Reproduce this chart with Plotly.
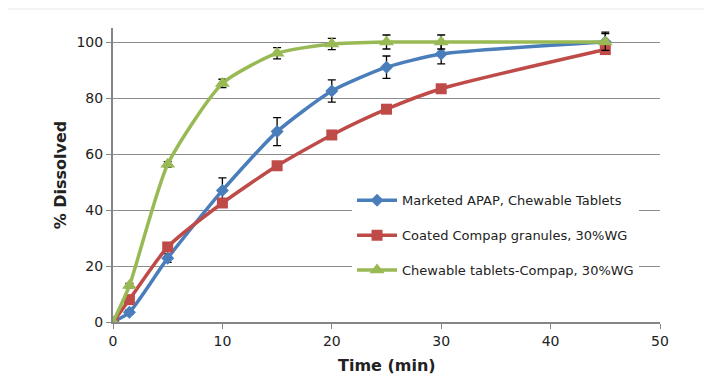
import plotly.graph_objects as go

time_min = [0, 1.5, 5, 10, 15, 20, 25, 30, 45]
marketed = [0, 3.5, 22.8, 47, 68, 82.5, 91, 95.7, 100]
marketed_err = [0, 0.8, 1.5, 4.5, 5, 4, 4, 3.5, 3.5]
coated = [0, 8, 26.8, 42.5, 55.8, 66.8, 76, 83.3, 97.3]
chewable = [0, 13, 56.3, 85.2, 96, 99.3, 100, 100, 100]
chewable_err = [0, 0.8, 1, 1.5, 2, 2, 2.5, 2.5, 3]

names = ["Marketed APAP, Chewable Tablets", "Coated Compap granules, 30%WG",
         "Chewable tablets-Compap, 30%WG"]
colors = ["#4A7EBB", "#BE4B48", "#98B954"]

fig = go.Figure()
fig.add_trace(go.Scatter(x=time_min, y=marketed, name=names[0], mode="lines+markers", legendgroup="a",
                         line=dict(color=colors[0], width=3.5, shape="spline", smoothing=0.6),
                         marker=dict(symbol="diamond", size=10, color=colors[0]),
                         error_y=dict(type="data", array=marketed_err, color="black", thickness=1.3, width=4)))
fig.add_trace(go.Scatter(x=time_min, y=coated, name=names[1], mode="lines+markers", legendgroup="b",
                         line=dict(color=colors[1], width=3.5, shape="spline", smoothing=0.6),
                         marker=dict(symbol="square", size=11, color=colors[1])))
fig.add_trace(go.Scatter(x=time_min, y=chewable, name=names[2], mode="lines+markers", legendgroup="c",
                         line=dict(color=colors[2], width=3.5, shape="spline", smoothing=0.6),
                         marker=dict(symbol="triangle-up", size=13, color=colors[2]),
                         error_y=dict(type="data", array=chewable_err, color="black", thickness=1.3, width=4)))

# panel background (white card on light gray page)
fig.add_shape(type="rect", xref="paper", yref="paper", x0=-0.2, x1=1.2, y0=-0.3, y1=1.061,
              fillcolor="white", line=dict(width=0), layer="below")

# x-axis title placed as text, partly running off the bottom like the original
fig.add_annotation(text="<b>Time (min)</b>", xref="paper", yref="paper", x=0.5, y=-0.148,
                   xanchor="center", yanchor="middle", showarrow=False,
                   font=dict(size=16, color="#222"))

fig.update_layout(
    width=704, height=367,
    margin=dict(l=105, r=52, t=20, b=53),
    paper_bgcolor="#f3f3f3",
    plot_bgcolor="white",
    font=dict(family="DejaVu Sans", size=14, color="#222"),
    showlegend=True,
    legend=dict(x=0.437, y=0.465, xanchor="left", yanchor="top",
                bgcolor="white", font=dict(size=13, color="#222"),
                traceorder="grouped", tracegroupgap=15, itemwidth=40),
    xaxis=dict(range=[0, 50], dtick=10, showgrid=False, zeroline=False, automargin=False,
               showline=True, linecolor="#868686", linewidth=2,
               ticks="outside", ticklen=5, tickcolor="#868686"),
    yaxis=dict(range=[0, 105], tickvals=[0, 20, 40, 60, 80, 100], automargin=False,
               showgrid=True, gridcolor="#8c8c8c", gridwidth=1.3, zeroline=False,
               showline=True, linecolor="#868686", linewidth=2,
               ticks="outside", ticklen=5, tickcolor="#868686",
               title=dict(text="<b>% Dissolved</b>", font=dict(size=16, color="#222"), standoff=6)),
)

fig.write_html("out.html")
